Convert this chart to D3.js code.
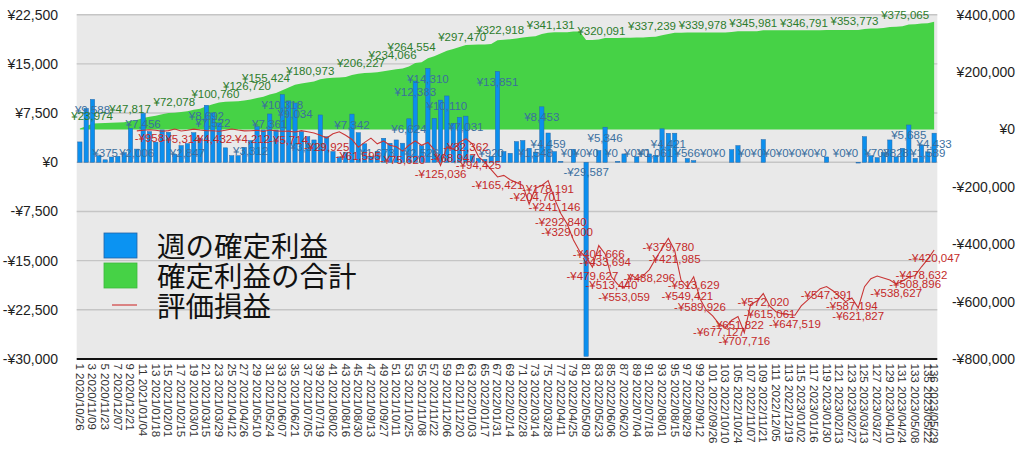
<!DOCTYPE html>
<html><head><meta charset="utf-8">
<script src="https://cdn.jsdelivr.net/npm/d3@7"></script>
<style>
html,body{margin:0;padding:0;background:#fff;}
svg{display:block;font-family:"Liberation Sans",Arial,Helvetica,sans-serif;}
</style></head><body>
<svg id="chart" width="1024" height="473"></svg>
<script>
// 週の確定利益 (weekly realized profit), weeks 1..136
const weeklyProfit = [
 3100, 8200, 9588, 1000, 375, 800, 911, 1470, 5180, 2006,
 7456, 4670, 3061, 4930, 4570, 1220, 2540, 2847, 4500, 3654,
 8692, 7522, 6000, 2200, 1000, 1000, 2268, 3312, 5440, 4930,
 7361, 4917, 10318, 9352, 9034, 4670, 3910, 3400, 7210, 3910,
 1630, 819, 1500, 7342, 4500, 2819, 860, 1673, 3660, 2900,
 3400, 2906, 6624, 12383, 2526, 14310, 6700, 9478, 10110, 5940,
 6860, 7031, 1000, 600, 455, 920, 13851, 1630, 1370, 3150,
 3317, 2130, 1548, 8453, 4459, 1623, 150, 0, 1980, 0,
 -29587, 0, 1781, 5346, 0, 150, 1270, 0, 865, 0,
 1270, 1061, 5100, 4421, 4431, 0, 566, 250, 0, 0,
 0, 0, 0, 1923, 2540, 0, 0, 0, 3463, 0,
 0, 0, 0, 0, 0, 0, 0, 0, 810, 0,
 0, 0, 0, -120, 3900, 1000, 703, 1499, 3400, 828,
 2130, 5685, 587, 2640, 1589, 4433
];
// 確定利益の合計 (cumulative realized profit)
const cumulativeProfit = [
 3100, 11300, 20888, 21888, 22263, 23063, 23974, 25444, 30624, 32630,
 40086, 44756, 47817, 52747, 57317, 58537, 61077, 63924, 68424, 72078,
 80770, 88292, 94292, 96492, 97492, 98492, 100760, 104072, 109512, 114442,
 121803, 126720, 137038, 146390, 155424, 160094, 164004, 167404, 174614, 178524,
 180154, 180973, 182473, 189815, 194315, 197134, 197994, 199667, 203327, 206227,
 209627, 212533, 219157, 231540, 234066, 248376, 255076, 264554, 274664, 280604,
 287464, 294495, 295495, 296095, 296550, 297470, 311321, 312951, 314321, 317471,
 320788, 322918, 324466, 332919, 337378, 339001, 339151, 339151, 341131, 341131,
 311544, 311544, 313325, 318671, 318671, 318821, 320091, 320091, 320956, 320956,
 322226, 323287, 328387, 332808, 337239, 337239, 337805, 338055, 338055, 338055,
 338055, 338055, 338055, 339978, 342518, 342518, 342518, 342518, 345981, 345981,
 345981, 345981, 345981, 345981, 345981, 345981, 345981, 345981, 346791, 346791,
 346791, 346791, 346791, 346671, 350571, 351571, 352274, 353773, 357173, 358001,
 360131, 365816, 366403, 369043, 370632, 375065
];
// 評価損益 (unrealized P/L); no value for the first weeks
const unrealizedPL = [
 null, null, null, null, null, null, null, null, null, -5000,
 -3000, -958, -2500, -6000, -4000, 1500, -5314, -3000, 1000, -2000,
 -4000, -4432, -6000, -3000, 1500, -2000, -5000, -4212, -3000, -7000,
 -2000, -5000, -6000, -5714, -9000, -4000, -8000, -12000, -20000, -29925,
 -15000, -8000, -20000, -35000, -61595, -45000, -30000, -50000, -40000, -55000,
 -60000, -75620, -55000, -40000, -55000, -45000, -70000, -125036, -60000, -68947,
 -45000, -32362, -50000, -94425, -115000, -140000, -165421, -160000, -175000, -185000,
 -195000, -260000, -204701, -195000, -178191, -241146, -292840, -329000, -385000, -425000,
 -445000, -479627, -404666, -433694, -513440, -540000, -553059, -505000, -520000, -510000,
 -488296, -450000, -415000, -379780, -421985, -525000, -549421, -513629, -589926, -630000,
 -650000, -677127, -690000, -665000, -651822, -707716, -610000, -598000, -572020, -615061,
 -635000, -642000, -645000, -647519, -615000, -595000, -575000, -555000, -547391, -562000,
 -580000, -600000, -587194, -621827, -548000, -520000, -511000, -518000, -525000, -538627,
 -528000, -515000, -508896, -478632, -452000, -420047
];
const barLabelWeeks = [3,5,10,11,18,21,22,28,31,33,35,37,44,48,53,54,55,56,59,62,66,67,73,74,75,78,80,81,82,84,85,88,90,92,94,97,100,102,106,108,110,112,114,116,118,121,123,127,130,132,135,136];
const cumLabelWeeks = [7,13,20,27,32,35,42,50,55,58,66,72,80,88,96,104,112,120,128,136];
const unrealLabelWeeks = [12,17,22,28,34,40,45,52,58,60,62,64,67,73,75,76,77,78,82,83,84,85,87,91,94,95,97,98,99,102,105,106,109,110,114,119,123,124,130,133,134,136];
const leftTicks = [-30000,-22500,-15000,-7500,0,7500,15000,22500];
const rightTicks = [-800000,-600000,-400000,-200000,0,200000,400000];
const firstWeekDate = "2020-10-26";
const legendNames = ["週の確定利益","確定利益の合計","評価損益"];

const L = 76.7, R = 937.3, T = 14.7, B = 359;
const svg = d3.select("#chart");
const weeks = weeklyProfit.map((_, i) => i + 1);
const x = d3.scaleBand().domain(weeks).range([L, R]).paddingInner(0.32).paddingOuter(0.16);
const cx = w => x(w) + x.bandwidth() / 2;
const yL = d3.scaleLinear().domain([-30000, 22500]).range([B, T]);
const yR = d3.scaleLinear().domain([-800000, 400000]).range([B, T]);
const yen = v => (v < 0 ? "-¥" : "¥") + d3.format(",")(Math.abs(v));
const start = d3.timeParse("%Y-%m-%d")(firstWeekDate);
const fmtDate = d3.timeFormat("%Y/%m/%d");
const weekLabel = w => w + " " + fmtDate(d3.timeDay.offset(start, 7 * (w - 1)));

// plot background
svg.append("rect").attr("x", L).attr("y", T).attr("width", R - L).attr("height", B - T).attr("fill", "#e9e9e9");
// gridlines
svg.append("g").selectAll("line").data(leftTicks.filter(t => t > -30000)).join("line")
  .attr("x1", L).attr("x2", R).attr("y1", d => yL(d)).attr("y2", d => yL(d))
  .attr("stroke", "#c5c5c5").attr("stroke-width", 1.4);

// cumulative area
const cumData = weeks.map((w, i) => ({w, v: cumulativeProfit[i]}));
svg.append("path").datum(cumData)
  .attr("d", d3.area().x(d => cx(d.w)).y0(yR(0)).y1(d => yR(d.v)))
  .attr("fill", "#46d246");

// bars
const barData = weeks.map((w, i) => ({w, v: weeklyProfit[i]}));
svg.append("g").selectAll("rect").data(barData).join("rect")
  .attr("x", d => x(d.w)).attr("width", x.bandwidth())
  .attr("y", d => yL(Math.max(0, d.v)))
  .attr("height", d => Math.abs(yL(d.v) - yL(0)))
  .attr("fill", "#0b8fee").attr("stroke", "#2a68a6").attr("stroke-width", 0.5);

// unrealized line
const unrealData = weeks.map((w, i) => ({w, v: unrealizedPL[i]}));
svg.append("path").datum(unrealData)
  .attr("d", d3.line().defined(d => d.v !== null).x(d => cx(d.w)).y(d => yR(d.v)))
  .attr("fill", "none").attr("stroke", "#c93535").attr("stroke-width", 1.1);

// bar labels
svg.append("g").selectAll("text").data(barData.filter(d => barLabelWeeks.includes(d.w))).join("text")
  .attr("x", d => cx(d.w))
  .attr("y", d => (d.v >= 0 ? Math.min(yL(d.v) + 10.5, yL(0) - 9.5) : yL(0) + 9.5) + 4)
  .attr("text-anchor", "middle").attr("font-size", 11.5).attr("fill", "#3a6f9f")
  .text(d => yen(d.v));
// cumulative labels
svg.append("g").selectAll("text").data(cumData.filter(d => cumLabelWeeks.includes(d.w))).join("text")
  .attr("x", d => cx(d.w) - 5).attr("y", d => yR(d.v) - 3)
  .attr("text-anchor", "end").attr("font-size", 11.5).attr("fill", "#2c7c2c")
  .text(d => yen(d.v));
// unrealized labels
svg.append("g").selectAll("text").data(unrealData.filter(d => unrealLabelWeeks.includes(d.w))).join("text")
  .attr("x", d => cx(d.w)).attr("y", d => yR(d.v) + 12.5)
  .attr("text-anchor", "middle").attr("font-size", 11.5).attr("fill", "#c42a2a")
  .text(d => yen(d.v));

// left axis
const gl = svg.append("g").attr("transform", `translate(${L},0)`)
  .call(d3.axisLeft(yL).tickValues(leftTicks).tickFormat(yen).tickSize(0).tickPadding(L - 58));
gl.select(".domain").remove();
gl.selectAll("text").attr("font-size", 14).attr("fill", "#1e1e1e").attr("font-family", "Liberation Sans, Arial, sans-serif");
// right axis
const gr = svg.append("g").attr("transform", "translate(1015,0)")
  .call(d3.axisLeft(yR).tickValues(rightTicks).tickFormat(yen).tickSize(0).tickPadding(0));
gr.select(".domain").remove();
gr.selectAll("text").attr("font-size", 14).attr("fill", "#1e1e1e").attr("font-family", "Liberation Sans, Arial, sans-serif");
// bottom axis
const tickWeeks = weeks.filter(w => w % 2 === 1 || w === weeks.length);
const gx = svg.append("g").attr("transform", `translate(0,${B})`)
  .call(d3.axisBottom(x).tickValues(tickWeeks).tickFormat(weekLabel).tickSize(0));
gx.select(".domain").remove();
gx.selectAll("text").attr("transform", "rotate(90)").attr("x", 4.5).attr("y", 0).attr("dy", "0.35em")
  .attr("text-anchor", "start").attr("font-size", 11.5).attr("fill", "#333")
  .attr("font-family", "Liberation Sans, Arial, sans-serif");
svg.append("line").attr("x1", L).attr("x2", R).attr("y1", B).attr("y2", B).attr("stroke", "#111").attr("stroke-width", 2.2);

// legend
const lg = svg.append("g");
lg.append("rect").attr("x", 104).attr("y", 233).attr("width", 33).attr("height", 25).attr("fill", "#0b93f2").attr("stroke", "#2463a6").attr("stroke-width", 0.8);
lg.append("rect").attr("x", 104).attr("y", 263).attr("width", 33).attr("height", 25).attr("fill", "#46d246").attr("stroke", "#3cb83c").attr("stroke-width", 0.8);
lg.append("line").attr("x1", 112).attr("x2", 137).attr("y1", 305).attr("y2", 305).attr("stroke", "#d04040").attr("stroke-width", 1.2);
lg.selectAll("text").data(legendNames).join("text")
  .attr("x", 157).attr("y", (d, i) => 256.8 + i * 30.3)
  .attr("font-size", 28.5).attr("fill", "#111")
  .attr("font-family", "'Noto Sans CJK JP','Noto Sans CJK SC',sans-serif")
  .text(d => d);
</script>
</body></html>
